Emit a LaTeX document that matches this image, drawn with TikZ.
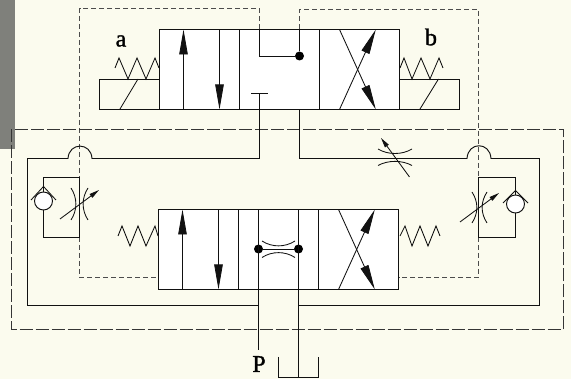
\documentclass[tikz,border=0pt]{standalone}
\usepackage{fontspec}
\newfontfamily\letterfont[FakeBold=1.2]{Liberation Serif}
\usetikzlibrary{arrows.meta}
\definecolor{paper}{HTML}{FBFBEE}
\definecolor{tabgray}{HTML}{7F807B}
\definecolor{ink}{HTML}{111111}
\begin{document}
\begin{tikzpicture}[
    x=1pt, y=-1pt,
    pipe/.style={draw=ink, line width=0.95pt},
    thinline/.style={draw=ink, line width=0.85pt},
    pilot/.style={draw=ink!75, line width=0.8pt, dash pattern=on 5pt off 3pt},
    frameline/.style={draw=ink!85, line width=0.8pt, dash pattern=on 13pt off 3pt},
    flowtip/.style={-{Triangle[length=25pt,width=8.5pt]}, thinline},
    adjtip/.style={-{Triangle[length=10pt,width=4.5pt]}, thinline},
    junction/.style={circle, fill=black, inner sep=0pt, minimum size=9pt},
    checkball/.style={circle, draw=ink, fill=white, line width=0.95pt, inner sep=0pt, minimum size=18pt},
    letter/.style={font=\fontsize{24}{24}\selectfont\letterfont, inner sep=0pt}
]
\useasboundingbox (0,0) rectangle (571,379);
\fill[paper] (0,0) rectangle (571,379);
\fill[tabgray] (0,0) rectangle (15,149);

% pilot lines
\draw[pilot] (259.5,29) -- (259.5,8.5) -- (79.5,8.5) -- (79.5,177);
\draw[pilot] (299.5,29) -- (299.5,9.5) -- (478.5,9.5) -- (478.5,177);
\draw[pilot] (79.5,237) -- (79.5,277.5) -- (158.5,277.5);
\draw[pilot] (478.5,237) -- (478.5,277.5) -- (398.5,277.5);

\draw[frameline] (11.5,129.5) rectangle (563.5,329.5);

% both valves
\foreach \dx/\dy in {0/0,-1/180}{
  \begin{scope}[shift={(\dx,\dy)}]
    \draw[pipe, fill=white] (159.5,29.5) rectangle (399.5,109.5);
    \foreach \x in {239.5,319.5}{
      \draw[pipe] (\x,29.5) -- (\x,109.5);
    }
    \draw[flowtip] (183.5,109.5) -- (183.5,29.5);
    \draw[flowtip] (219.5,29.5) -- (219.5,109.5);
    \draw[flowtip] (339.5,109.5) -- (375.8,29.5);
    \draw[flowtip] (339.5,29.5) -- (375.8,109.5);
  \end{scope}
}

% upper valve, middle cell
\node[junction] (dotUp) at (299.5,56) {};
\coordinate (portA) at (259.5,29.5);
\coordinate (teeUp) at (259.5,93.5);
\draw[pipe] (portA) -- (259.5,56) -- (dotUp);
\draw[pipe] (299.5,29.5) -- (dotUp);
\draw[thinline] (251,93.5) -- (267.5,93.5);

% lower valve, middle cell
\node[junction] (dotLeft) at (258.5,249) {};
\node[junction] (dotRight) at (298.5,249) {};
\draw[pipe] (258.5,209.5) -- (258.5,289.5);
\draw[pipe] (298.5,209.5) -- (298.5,289.5);
\draw[pipe] (dotLeft) -- (dotRight);
\draw[thinline] (262,241) .. controls (272,247.5) and (285,247.5) .. (295,241);
\draw[thinline] (262,257.5) .. controls (272,251) and (285,251) .. (295,257.5);

% main lines
\draw[pipe] (299.5,109.5) -- (299.5,158.5) -- (467,158.5) .. controls (468,141.5) and (490,141.5) .. (491,158.5) -- (539.5,158.5) -- (539.5,305.5) -- (298.5,305.5);
\draw[pipe] (teeUp) -- (259.5,158.5) -- (92,158.5) .. controls (91,142) and (69,142) .. (68,158.5) -- (27.5,158.5) -- (27.5,305.5) -- (258.5,305.5);
\draw[pipe] (258.5,289.5) -- (258.5,350);
\draw[pipe] (298.5,289.5) -- (298.5,377.5);
\draw[pipe] (278.5,357) -- (278.5,377.5) -- (318.5,377.5) -- (318.5,357);

% solenoids
\draw[pipe] (159.5,79.5) -- (99.5,79.5) -- (99.5,109.5) -- (159.5,109.5);
\draw[thinline] (120,109) -- (138,79);
\draw[pipe] (399.5,79.5) -- (459.5,79.5) -- (459.5,109.5) -- (399.5,109.5);
\draw[thinline] (420,109) -- (438.5,79);

% springs
\draw[thinline] (115,68) -- (119,58) -- (128,79) -- (137,58) -- (146,79) -- (155,58) -- (159,68);
\draw[thinline] (400,68) -- (404,58) -- (412,79) -- (421,58) -- (430,79) -- (439,58) -- (443,68);
\draw[thinline] (118,236) -- (122,226) -- (130,246) -- (138,226) -- (146,246) -- (155,226) -- (158,236);
\draw[thinline] (400,236) -- (405,226) -- (412,246) -- (420,226) -- (428,246) -- (436,226) -- (440,236);

% throttle on the line to b
\draw[thinline] (378,149) .. controls (388,155) and (402,155) .. (412,149);
\draw[thinline] (378,165.5) .. controls (388,160) and (402,160) .. (412,165.5);
\draw[adjtip] (409.5,177) -- (381,138);

% left branch
\node[checkball] (ballLeft) at (43.5,201) {};
\draw[pipe] (ballLeft) -- (43.5,177.5) -- (79.5,177.5) -- (79.5,237.5) -- (43.5,237.5) -- (ballLeft);
\draw[thinline] (31,200) -- (43.5,186.5) -- (56,200);
\draw[thinline] (71,188) .. controls (77.5,198) and (77.5,210) .. (71,220);
\draw[thinline] (88,188) .. controls (81.5,198) and (81.5,210) .. (88,220);
\draw[adjtip] (60,219) -- (99,190);

% right branch
\node[checkball] (ballRight) at (515.5,204) {};
\draw[pipe] (ballRight) -- (515.5,177.5) -- (478.5,177.5) -- (478.5,237.5) -- (515.5,237.5) -- (ballRight);
\draw[thinline] (503,203) -- (515.5,190.5) -- (528,203);
\draw[thinline] (472,192) .. controls (478.5,202) and (478.5,213) .. (472,223);
\draw[thinline] (487,192) .. controls (480.5,202) and (480.5,213) .. (487,223);
\draw[adjtip] (460,222) -- (499,193);

\node[letter] (labelA) at (121,41) {a};
\node[letter] (labelB) at (431,37) {b};
\node[letter] (labelP) at (259,364) {P};

\end{tikzpicture}
\end{document}
